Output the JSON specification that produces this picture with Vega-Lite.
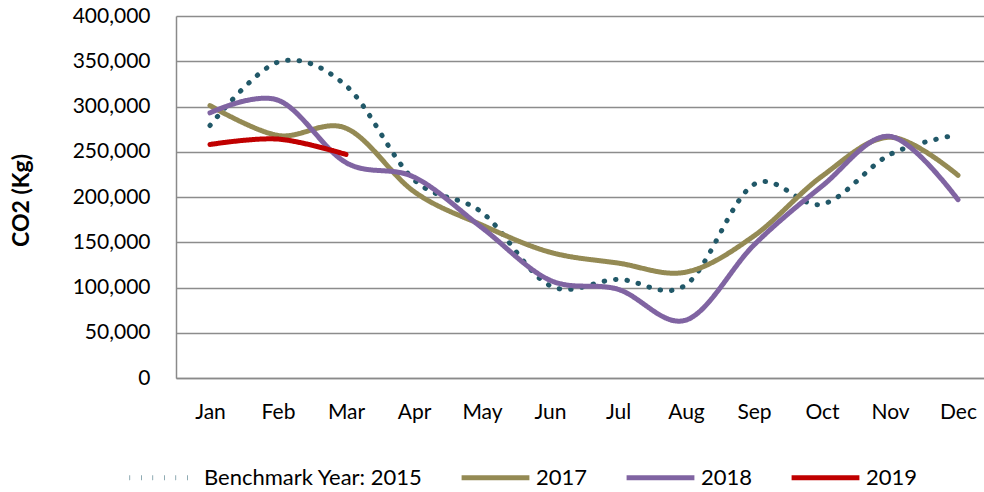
{
  "$schema": "https://vega.github.io/schema/vega-lite/v6.json",
  "width": 816,
  "height": 362,
  "autosize": {"type": "none"},
  "padding": {"left": 176, "top": 16, "right": -8, "bottom": 114},
  "background": "white",
  "config": {
    "view": {"stroke": null},
    "font": "Lato",
    "axis": {"labelFont": "Lato", "labelFontSize": 21, "labelColor": "#000000", "ticks": false},
    "legend": {
      "title": null,
      "orient": "none",
      "legendX": -49,
      "legendY": 425,
      "direction": "horizontal",
      "symbolType": "stroke",
      "symbolSize": 4600,
      "labelFont": "Lato",
      "labelFontSize": 22,
      "labelColor": "#000000",
      "labelOffset": 4,
      "labelLimit": 400,
      "columnPadding": 28
    }
  },
  "data": {
    "values": [
      {"month": "Jan", "series": "Benchmark Year: 2015", "co2": 279000},
      {"month": "Feb", "series": "Benchmark Year: 2015", "co2": 349000},
      {"month": "Mar", "series": "Benchmark Year: 2015", "co2": 323000},
      {"month": "Apr", "series": "Benchmark Year: 2015", "co2": 219000},
      {"month": "May", "series": "Benchmark Year: 2015", "co2": 183000},
      {"month": "Jun", "series": "Benchmark Year: 2015", "co2": 102000},
      {"month": "Jul", "series": "Benchmark Year: 2015", "co2": 109000},
      {"month": "Aug", "series": "Benchmark Year: 2015", "co2": 103000},
      {"month": "Sep", "series": "Benchmark Year: 2015", "co2": 214000},
      {"month": "Oct", "series": "Benchmark Year: 2015", "co2": 192000},
      {"month": "Nov", "series": "Benchmark Year: 2015", "co2": 247000},
      {"month": "Dec", "series": "Benchmark Year: 2015", "co2": 269000},
      {"month": "Jan", "series": "2017", "co2": 301000},
      {"month": "Feb", "series": "2017", "co2": 268000},
      {"month": "Mar", "series": "2017", "co2": 276000},
      {"month": "Apr", "series": "2017", "co2": 206000},
      {"month": "May", "series": "2017", "co2": 169000},
      {"month": "Jun", "series": "2017", "co2": 139000},
      {"month": "Jul", "series": "2017", "co2": 127000},
      {"month": "Aug", "series": "2017", "co2": 117000},
      {"month": "Sep", "series": "2017", "co2": 157000},
      {"month": "Oct", "series": "2017", "co2": 223000},
      {"month": "Nov", "series": "2017", "co2": 266000},
      {"month": "Dec", "series": "2017", "co2": 224000},
      {"month": "Jan", "series": "2018", "co2": 293000},
      {"month": "Feb", "series": "2018", "co2": 307000},
      {"month": "Mar", "series": "2018", "co2": 238000},
      {"month": "Apr", "series": "2018", "co2": 222000},
      {"month": "May", "series": "2018", "co2": 166000},
      {"month": "Jun", "series": "2018", "co2": 108000},
      {"month": "Jul", "series": "2018", "co2": 98000},
      {"month": "Aug", "series": "2018", "co2": 64000},
      {"month": "Sep", "series": "2018", "co2": 147000},
      {"month": "Oct", "series": "2018", "co2": 212000},
      {"month": "Nov", "series": "2018", "co2": 267000},
      {"month": "Dec", "series": "2018", "co2": 197000},
      {"month": "Jan", "series": "2019", "co2": 258000},
      {"month": "Feb", "series": "2019", "co2": 264000},
      {"month": "Mar", "series": "2019", "co2": 247000}
    ]
  },
  "mark": {"type": "line", "interpolate": "cardinal", "strokeCap": "round", "strokeJoin": "round"},
  "encoding": {
    "x": {
      "field": "month",
      "type": "ordinal",
      "sort": ["Jan", "Feb", "Mar", "Apr", "May", "Jun", "Jul", "Aug", "Sep", "Oct", "Nov", "Dec"],
      "scale": {"type": "point", "padding": 0.5},
      "axis": {"title": null, "labelAngle": 0, "labelPadding": 23, "domainColor": "#8a8a8a", "domainWidth": 1.5, "grid": false}
    },
    "y": {
      "field": "co2",
      "type": "quantitative",
      "scale": {"domain": [0, 400000], "nice": false},
      "axis": {
        "values": [0, 50000, 100000, 150000, 200000, 250000, 300000, 350000, 400000],
        "format": ",.0f",
        "title": "CO2 (Kg)",
        "titleFont": "Lato",
        "titleFontSize": 23,
        "titleFontWeight": "bold",
        "titleColor": "#000000",
        "titleX": -155,
        "titleY": 184,
        "titleAlign": "center",
        "titleBaseline": "middle",
        "labelPadding": 26,
        "domainColor": "#8a8a8a",
        "domainWidth": 1.5,
        "gridColor": "#8c8c8c",
        "gridWidth": 1.3
      }
    },
    "color": {
      "field": "series",
      "type": "nominal",
      "scale": {"domain": ["Benchmark Year: 2015", "2017", "2018", "2019"], "range": ["#215868", "#948a54", "#8064a2", "#c00000"]},
      "legend": {}
    },
    "strokeDash": {
      "field": "series",
      "type": "nominal",
      "scale": {"domain": ["Benchmark Year: 2015", "2017", "2018", "2019"], "range": [[0.5, 11], [1, 0], [1, 0], [1, 0]]},
      "legend": {}
    },
    "strokeWidth": {
      "field": "series",
      "type": "nominal",
      "scale": {"domain": ["Benchmark Year: 2015", "2017", "2018", "2019"], "range": [5, 5, 5, 8]},
      "legend": {}
    }
  }
}
